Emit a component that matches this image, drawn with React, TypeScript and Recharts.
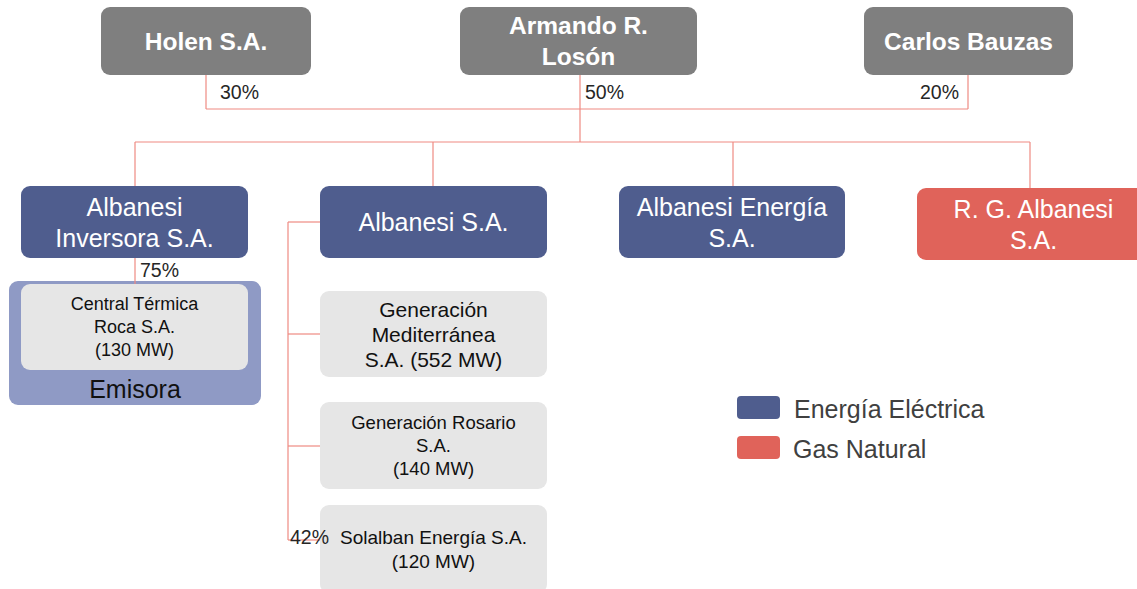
import React from "react";
import { ScatterChart, XAxis, YAxis, Scatter, ReferenceArea, ReferenceLine } from "recharts";

const W = 1137;
const H = 589;
const FONT = "'Liberation Sans', Arial, Helvetica, sans-serif";

// ---- values (text content) ----
const owners = ["Holen S.A.", "Armando R.|Losón", "Carlos Bauzas"];
const ownerShares = ["30%", "50%", "20%"];
const companies = ["Albanesi|Inversora S.A.", "Albanesi S.A.", "Albanesi Energía|S.A.", "R. G. Albanesi|S.A."];
const companySector = ["elec", "elec", "elec", "gas"];
const plants = [
  "Central Térmica|Roca S.A.|(130 MW)",
  "Generación|Mediterránea|S.A. (552 MW)",
  "Generación Rosario|S.A.|(140 MW)",
  "Solalban Energía S.A.|(120 MW)",
];
const plantShares = ["75%", "42%"];
const legendLabels = ["Energía Eléctrica", "Gas Natural"];
const legendSectors = ["elec", "gas"];
const emisoraLabel = "Emisora";

// ---- layout in data units (x: 0..1137, y: 0..589 downward) ----
const ownerBoxes = [
  [101, 311, 7, 75],
  [460, 697, 7, 75],
  [864, 1073, 7, 75],
];
const companyBoxes = [
  [21, 248, 186, 258],
  [320, 547, 186, 258],
  [619, 845, 186, 258],
  [917, 1150, 188, 260],
];
const plantBoxes = [
  [21, 248, 284, 370],
  [320, 547, 291, 377],
  [320, 547, 402, 489],
  [320, 547, 505, 593],
];
const emisoraBox = [9, 261, 281, 405];
const legendBoxes = [
  [737, 780, 396, 419],
  [737, 780, 436, 459],
];
const segments: number[][] = [
  [206, 75, 206, 109],
  [968, 75, 968, 109],
  [206, 109, 968, 109],
  [580, 75, 580, 142],
  [135, 142, 1030, 142],
  [135, 142, 135, 186],
  [433, 142, 433, 186],
  [733, 142, 733, 186],
  [1030, 142, 1030, 188],
  [135, 258, 135, 284],
  [288, 222, 288, 540],
  [288, 222, 320, 222],
  [288, 334, 320, 334],
  [288, 446, 320, 446],
  [288, 540, 320, 540],
];
const ownerShareAt = [[220, 92], [585, 92], [920, 92]];
const plantShareAt = [[140, 270], [290, 537]];
const emisoraAt = [135, 389];
const legendTextAt = [[794, 409], [793, 449]];

// ---- styles ----
const sectorColor: Record<string, string> = { elec: "#4F5D8E", gas: "#E0635A" };
const plantFont = [18, 21, 18.5, 19];
const plantLH = [23, 25, 23, 24];

const shareData = [
  ...ownerShares.map((s, i) => ({ x: ownerShareAt[i][0], y: ownerShareAt[i][1], label: s })),
  ...plantShares.map((s, i) => ({ x: plantShareAt[i][0], y: plantShareAt[i][1], label: s })),
];
const legendData = legendLabels.map((s, i) => ({ x: legendTextAt[i][0], y: legendTextAt[i][1], label: s }));
const emisoraData = [{ x: emisoraAt[0], y: emisoraAt[1], label: emisoraLabel }];

function boxShape(text: string, fill: string, color: string, fontSize: number, lh: number, bold: boolean) {
  return (p: any) => {
    const { x, y, width, height } = p;
    const lines = text.split("|");
    const cx = x + width / 2;
    const cy = y + height / 2;
    const y0 = cy - ((lines.length - 1) * lh) / 2;
    return (
      <g>
        <rect x={x} y={y} width={width} height={height} rx={9} ry={9} fill={fill} />
        {text ? (
          <text
            x={cx}
            textAnchor="middle"
            fill={color}
            fontSize={fontSize}
            fontFamily={FONT}
            fontWeight={bold ? 700 : 400}
          >
            {lines.map((l, i) => (
              <tspan key={i} x={cx} y={y0 + i * lh} dominantBaseline="central">
                {l}
              </tspan>
            ))}
          </text>
        ) : null}
      </g>
    );
  };
}

function labelShape(anchor: string, size: number, color: string) {
  return (p: any) => (
    <text
      x={p.cx}
      y={p.cy}
      textAnchor={anchor as any}
      dominantBaseline="central"
      fontSize={size}
      fontFamily={FONT}
      fill={color}
    >
      {p.payload.label}
    </text>
  );
}

export default function App() {
  return (
    <div style={{ position: "absolute", left: 0, top: 0, width: W, height: H, background: "#fff" }}>
      <ScatterChart width={W} height={H} margin={{ top: 0, right: 0, bottom: 0, left: 0 }}>
        <XAxis type="number" dataKey="x" domain={[0, W]} hide allowDataOverflow />
        <YAxis type="number" dataKey="y" domain={[0, H]} reversed hide allowDataOverflow />

        {owners.map((t, i) => (
          <ReferenceArea
            key={"o" + i}
            x1={ownerBoxes[i][0]}
            x2={ownerBoxes[i][1]}
            y1={ownerBoxes[i][2]}
            y2={ownerBoxes[i][3]}
            ifOverflow="hidden"
            shape={boxShape(t, "#7F7F7F", "#FFFFFF", 24.5, 31, true)}
          />
        ))}
        {companies.map((t, i) => (
          <ReferenceArea
            key={"c" + i}
            x1={companyBoxes[i][0]}
            x2={companyBoxes[i][1]}
            y1={companyBoxes[i][2]}
            y2={companyBoxes[i][3]}
            ifOverflow="hidden"
            shape={boxShape(t, sectorColor[companySector[i]], "#FFFFFF", 25, 31, false)}
          />
        ))}
        <ReferenceArea
          x1={emisoraBox[0]}
          x2={emisoraBox[1]}
          y1={emisoraBox[2]}
          y2={emisoraBox[3]}
          ifOverflow="hidden"
          shape={boxShape("", "#8F9AC5", "#000", 24, 30, false)}
        />
        {plants.map((t, i) => (
          <ReferenceArea
            key={"p" + i}
            x1={plantBoxes[i][0]}
            x2={plantBoxes[i][1]}
            y1={plantBoxes[i][2]}
            y2={plantBoxes[i][3]}
            ifOverflow="hidden"
            shape={boxShape(t, "#E6E6E6", "#111111", plantFont[i], plantLH[i], false)}
          />
        ))}
        {legendSectors.map((s, i) => (
          <ReferenceArea
            key={"l" + i}
            x1={legendBoxes[i][0]}
            x2={legendBoxes[i][1]}
            y1={legendBoxes[i][2]}
            y2={legendBoxes[i][3]}
            ifOverflow="hidden"
            shape={(p: any) => (
              <rect x={p.x} y={p.y} width={p.width} height={p.height} rx={4} ry={4} fill={sectorColor[s]} />
            )}
          />
        ))}
        {segments.map((s, i) => (
          <ReferenceLine
            key={"s" + i}
            segment={[
              { x: s[0], y: s[1] },
              { x: s[2], y: s[3] },
            ]}
            stroke="#EF8A82"
            strokeWidth={1.2}
          />
        ))}
        <Scatter data={shareData} isAnimationActive={false} shape={labelShape("start", 19.5, "#262626")} />
        <Scatter data={emisoraData} isAnimationActive={false} shape={labelShape("middle", 25, "#111111")} />
        <Scatter data={legendData} isAnimationActive={false} shape={labelShape("start", 25, "#404040")} />
      </ScatterChart>
    </div>
  );
}
